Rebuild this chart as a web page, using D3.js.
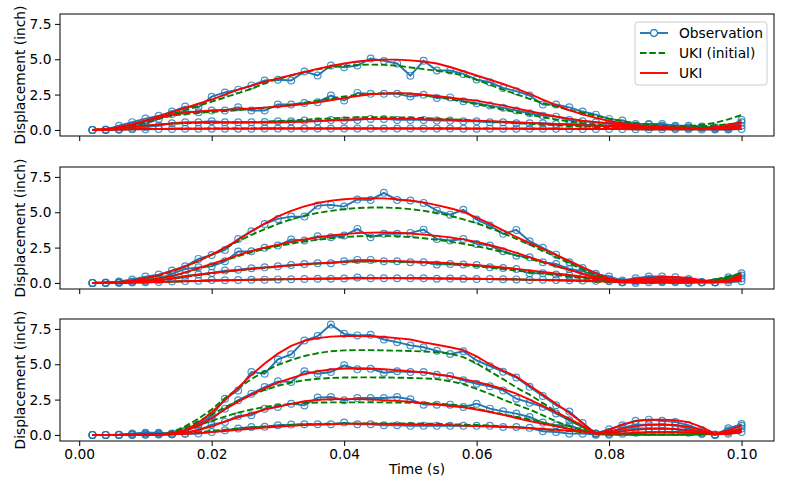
<!DOCTYPE html>
<html lang="en">
<head>
<meta charset="utf-8">
<title>UKI: displacement vs time</title>
<script src="https://cdn.jsdelivr.net/npm/d3@7"></script>
<style>
	body { margin: 0; background: #fff; }
	text { font-family: "DejaVu Sans", sans-serif; }
</style>
</head>
<body>
<script>
var time = [0.002, 0.004, 0.006, 0.008, 0.010, 0.012, 0.014, 0.016, 0.018, 0.020,
			0.022, 0.024, 0.026, 0.028, 0.030, 0.032, 0.034, 0.036, 0.038, 0.040,
			0.042, 0.044, 0.046, 0.048, 0.050, 0.052, 0.054, 0.056, 0.058, 0.060,
			0.062, 0.064, 0.066, 0.068, 0.070, 0.072, 0.074, 0.076, 0.078, 0.080,
			0.082, 0.084, 0.086, 0.088, 0.090, 0.092, 0.094, 0.096, 0.098, 0.100];

// ---- panel 1 ----
var obs1a = [0, 0.02, 0.3, 0.55, 0.8, 1.0, 1.3, 1.65, 1.6, 2.35, 2.65, 2.85, 3.15, 3.5, 3.55, 3.5, 4.13, 3.85, 4.56, 4.43, 4.55, 5.05, 4.88, 4.7, 3.84, 4.89, 4.2, 4.2, 3.96, 3.56, 3.37, 2.97, 2.74, 2.43, 1.8, 1.8, 1.6, 1.3, 1.08, 0.78, 0.66, 0.42, 0.42, 0.42, 0.3, 0.3, 0.24, 0.19, 0.19, 0.71];
var obs1b = [0, 0.01, 0.07, 0.3, 0.42, 0.78, 1.13, 1.3, 1.25, 1.37, 1.37, 1.6, 1.37, 1.37, 1.8, 1.8, 1.9, 1.96, 2.43, 2.08, 2.62, 2.55, 2.55, 2.55, 2.36, 2.48, 2.26, 2.3, 2.03, 1.89, 1.72, 1.56, 1.37, 1.18, 1.01, 0.94, 0.71, 0.61, 0.54, 0.47, 0.47, 0.3, 0.38, 0.3, 0.24, 0.19, 0.19, 0.14, 0.14, 0.54];
var obs1c = [0, 0.01, 0.05, 0.1, 0.2, 0.3, 0.47, 0.54, 0.54, 0.61, 0.54, 0.54, 0.54, 0.56, 0.61, 0.61, 0.66, 0.61, 0.71, 0.66, 0.71, 0.78, 0.78, 0.71, 0.71, 0.71, 0.66, 0.66, 0.61, 0.61, 0.54, 0.54, 0.47, 0.47, 0.47, 0.42, 0.42, 0.38, 0.3, 0.3, 0.3, 0.3, 0.19, 0.19, 0.14, 0.14, 0.14, 0.07, 0.07, 0.3];
var obs1d = [0, 0, 0.02, 0.04, 0.05, 0.06, 0.07, 0.08, 0.08, 0.09, 0.09, 0.09, 0.09, 0.1, 0.1, 0.1, 0.1, 0.1, 0.1, 0.1, 0.1, 0.1, 0.1, 0.1, 0.1, 0.1, 0.1, 0.1, 0.09, 0.09, 0.09, 0.09, 0.09, 0.08, 0.08, 0.08, 0.07, 0.07, 0.07, 0.06, 0.06, 0.05, 0.05, 0.05, 0.04, 0.04, 0.03, 0.03, 0.03, 0.07];
var ini1a = [0, 0.05, 0.15, 0.3, 0.52, 0.8, 1.1, 1.4, 1.7, 2.0, 2.3, 2.6, 2.9, 3.3, 3.6, 3.85, 4.08, 4.28, 4.43, 4.53, 4.6, 4.62, 4.6, 4.55, 4.42, 4.3, 4.18, 4.05, 3.85, 3.55, 3.2, 2.85, 2.52, 2.2, 1.9, 1.65, 1.4, 1.2, 1.0, 0.8, 0.62, 0.48, 0.37, 0.3, 0.27, 0.28, 0.35, 0.5, 0.75, 1.05];
var ini1b = [0, 0.04, 0.15, 0.35, 0.58, 0.8, 1.0, 1.12, 1.2, 1.27, 1.33, 1.4, 1.47, 1.55, 1.65, 1.78, 1.92, 2.07, 2.22, 2.36, 2.48, 2.56, 2.6, 2.6, 2.55, 2.45, 2.32, 2.17, 2.0, 1.82, 1.63, 1.44, 1.25, 1.07, 0.9, 0.74, 0.6, 0.48, 0.38, 0.3, 0.24, 0.2, 0.18, 0.17, 0.18, 0.2, 0.25, 0.32, 0.4, 0.5];
var ini1c = [0, 0.03, 0.1, 0.2, 0.3, 0.38, 0.44, 0.48, 0.5, 0.51, 0.52, 0.53, 0.55, 0.58, 0.62, 0.67, 0.72, 0.77, 0.82, 0.86, 0.89, 0.9, 0.9, 0.89, 0.87, 0.84, 0.8, 0.76, 0.71, 0.66, 0.6, 0.55, 0.49, 0.43, 0.38, 0.33, 0.28, 0.24, 0.2, 0.17, 0.14, 0.12, 0.11, 0.1, 0.1, 0.11, 0.13, 0.16, 0.2, 0.25];
var ini1d = [0, 0.01, 0.03, 0.05, 0.06, 0.07, 0.08, 0.09, 0.09, 0.1, 0.1, 0.1, 0.1, 0.1, 0.11, 0.11, 0.11, 0.11, 0.11, 0.11, 0.11, 0.11, 0.11, 0.11, 0.11, 0.11, 0.1, 0.1, 0.1, 0.1, 0.1, 0.09, 0.09, 0.09, 0.08, 0.08, 0.08, 0.07, 0.07, 0.06, 0.06, 0.05, 0.05, 0.05, 0.05, 0.05, 0.05, 0.06, 0.08, 0.1];
var uki1a = [0, 0.05, 0.2, 0.4, 0.65, 0.95, 1.25, 1.55, 1.85, 2.15, 2.5, 2.85, 3.12, 3.4, 3.65, 3.88, 4.1, 4.32, 4.52, 4.7, 4.84, 4.93, 4.97, 4.97, 4.92, 4.84, 4.7, 4.45, 4.15, 3.85, 3.55, 3.25, 2.92, 2.55, 2.15, 1.75, 1.4, 1.1, 0.85, 0.63, 0.47, 0.35, 0.25, 0.18, 0.13, 0.12, 0.13, 0.2, 0.35, 0.55];
var uki1b = [0, 0.05, 0.2, 0.4, 0.65, 0.85, 1.05, 1.22, 1.3, 1.37, 1.42, 1.47, 1.52, 1.58, 1.65, 1.73, 1.83, 1.95, 2.1, 2.25, 2.4, 2.52, 2.58, 2.6, 2.58, 2.5, 2.4, 2.28, 2.17, 2.07, 1.9, 1.72, 1.52, 1.32, 1.13, 0.95, 0.8, 0.66, 0.55, 0.45, 0.37, 0.3, 0.25, 0.2, 0.17, 0.15, 0.14, 0.15, 0.2, 0.35];
var uki1c = [0, 0.05, 0.12, 0.2, 0.3, 0.38, 0.45, 0.5, 0.52, 0.53, 0.53, 0.52, 0.52, 0.52, 0.53, 0.55, 0.58, 0.62, 0.67, 0.72, 0.76, 0.78, 0.79, 0.79, 0.78, 0.76, 0.74, 0.72, 0.69, 0.66, 0.62, 0.58, 0.54, 0.5, 0.45, 0.41, 0.37, 0.33, 0.29, 0.25, 0.22, 0.19, 0.16, 0.14, 0.12, 0.11, 0.1, 0.11, 0.14, 0.22];
var uki1d = [0, 0.01, 0.03, 0.05, 0.06, 0.07, 0.08, 0.08, 0.09, 0.09, 0.09, 0.09, 0.09, 0.1, 0.1, 0.1, 0.1, 0.1, 0.1, 0.1, 0.1, 0.1, 0.1, 0.1, 0.1, 0.1, 0.1, 0.1, 0.09, 0.09, 0.09, 0.09, 0.09, 0.08, 0.08, 0.08, 0.07, 0.07, 0.07, 0.06, 0.06, 0.05, 0.05, 0.05, 0.04, 0.04, 0.04, 0.04, 0.05, 0.08];

// ---- panel 2 ----
var obs2a = [0, 0.02, 0.1, 0.24, 0.45, 0.59, 0.87, 1.18, 1.7, 1.98, 2.33, 3.11, 3.66, 4.17, 4.53, 4.69, 4.69, 5.47, 5.52, 5.4, 5.9, 5.87, 6.37, 5.87, 5.83, 5.66, 5.12, 4.83, 5.17, 4.48, 4.06, 3.47, 3.75, 2.95, 2.48, 2.0, 1.46, 1.06, 0.64, 0.45, 0.17, 0.33, 0.45, 0.45, 0.4, 0.28, 0.05, 0.05, 0.4, 0.68];
var obs2b = [0, 0.01, 0.03, 0.1, 0.2, 0.3, 0.64, 0.99, 1.1, 1.18, 1.53, 2.22, 2.24, 2.48, 2.64, 3.07, 3.0, 3.3, 3.23, 3.35, 3.82, 3.23, 3.47, 3.47, 3.54, 3.77, 3.11, 3.0, 3.11, 2.76, 2.64, 2.24, 1.93, 1.82, 1.46, 1.34, 0.99, 0.83, 0.52, 0.28, 0.05, 0.17, 0.28, 0.28, 0.21, 0.17, 0.05, 0.05, 0.28, 0.52];
var obs2c = [0, 0.01, 0.03, 0.06, 0.12, 0.2, 0.33, 0.5, 0.6, 0.71, 0.87, 0.94, 1.04, 1.1, 1.18, 1.27, 1.34, 1.39, 1.39, 1.53, 1.63, 1.63, 1.53, 1.53, 1.46, 1.46, 1.3, 1.34, 1.3, 1.27, 1.1, 1.06, 0.99, 0.68, 0.68, 0.59, 0.52, 0.4, 0.28, 0.17, 0.05, 0.1, 0.17, 0.12, 0.12, 0.05, 0.05, 0.05, 0.17, 0.33];
var obs2d = [0, 0, 0.01, 0.03, 0.05, 0.07, 0.1, 0.13, 0.15, 0.21, 0.19, 0.21, 0.22, 0.23, 0.25, 0.26, 0.28, 0.29, 0.3, 0.31, 0.38, 0.33, 0.33, 0.33, 0.33, 0.33, 0.3, 0.31, 0.3, 0.28, 0.27, 0.26, 0.25, 0.21, 0.23, 0.2, 0.19, 0.17, 0.15, 0.12, 0.05, 0, 0.05, 0.05, 0.05, 0, 0.05, 0.05, 0.05, 0.12];
var ini2a = [0, 0.02, 0.07, 0.15, 0.3, 0.5, 0.8, 1.15, 1.55, 2.0, 2.45, 2.95, 3.4, 3.8, 4.17, 4.5, 4.75, 4.95, 5.1, 5.22, 5.3, 5.33, 5.33, 5.3, 5.22, 5.1, 4.95, 4.75, 4.5, 4.22, 3.9, 3.52, 3.12, 2.7, 2.27, 1.83, 1.38, 0.95, 0.55, 0.25, 0.1, 0.05, 0.03, 0.03, 0.03, 0.05, 0.1, 0.25, 0.45, 0.7];
var ini2b = [0, 0.02, 0.05, 0.1, 0.18, 0.3, 0.48, 0.72, 1.0, 1.3, 1.6, 1.9, 2.17, 2.4, 2.6, 2.78, 2.93, 3.06, 3.16, 3.24, 3.3, 3.33, 3.33, 3.3, 3.25, 3.16, 3.05, 2.92, 2.77, 2.6, 2.4, 2.18, 1.95, 1.7, 1.45, 1.18, 0.92, 0.66, 0.42, 0.22, 0.1, 0.05, 0.03, 0.03, 0.03, 0.05, 0.1, 0.22, 0.4, 0.62];
var ini2c = [0, 0.01, 0.03, 0.06, 0.1, 0.17, 0.29, 0.43, 0.56, 0.68, 0.79, 0.89, 0.98, 1.07, 1.15, 1.23, 1.3, 1.37, 1.43, 1.47, 1.5, 1.52, 1.52, 1.5, 1.47, 1.43, 1.38, 1.32, 1.25, 1.17, 1.08, 0.98, 0.88, 0.77, 0.66, 0.55, 0.44, 0.33, 0.23, 0.14, 0.08, 0.04, 0.03, 0.03, 0.03, 0.04, 0.08, 0.16, 0.28, 0.45];
var ini2d = [0, 0, 0.01, 0.03, 0.05, 0.07, 0.09, 0.12, 0.14, 0.16, 0.18, 0.2, 0.22, 0.24, 0.26, 0.27, 0.29, 0.3, 0.31, 0.32, 0.33, 0.34, 0.34, 0.34, 0.34, 0.33, 0.32, 0.31, 0.3, 0.29, 0.27, 0.26, 0.24, 0.22, 0.2, 0.18, 0.15, 0.12, 0.1, 0.07, 0.05, 0.03, 0.02, 0.02, 0.02, 0.03, 0.05, 0.1, 0.18, 0.3];
var uki2a = [0, 0.02, 0.07, 0.15, 0.35, 0.55, 0.85, 1.15, 1.55, 2.0, 2.5, 3.05, 3.65, 4.2, 4.7, 5.1, 5.42, 5.65, 5.82, 5.92, 5.98, 6.0, 5.98, 5.92, 5.82, 5.7, 5.5, 5.28, 5.03, 4.62, 4.2, 3.72, 3.25, 2.82, 2.4, 1.98, 1.56, 1.12, 0.7, 0.3, 0.18, 0.28, 0.36, 0.42, 0.42, 0.35, 0.2, 0.08, 0.2, 0.6];
var uki2b = [0, 0.02, 0.05, 0.1, 0.18, 0.3, 0.48, 0.75, 1.05, 1.35, 1.65, 1.97, 2.27, 2.5, 2.7, 2.9, 3.08, 3.22, 3.35, 3.45, 3.52, 3.56, 3.57, 3.55, 3.5, 3.42, 3.33, 3.22, 3.08, 2.9, 2.68, 2.42, 2.12, 1.82, 1.5, 1.2, 0.92, 0.65, 0.4, 0.2, 0.12, 0.18, 0.24, 0.27, 0.27, 0.22, 0.14, 0.07, 0.18, 0.45];
var uki2c = [0, 0.01, 0.03, 0.06, 0.1, 0.17, 0.3, 0.45, 0.58, 0.7, 0.8, 0.9, 0.99, 1.08, 1.16, 1.24, 1.31, 1.38, 1.44, 1.49, 1.53, 1.55, 1.55, 1.54, 1.52, 1.48, 1.44, 1.39, 1.33, 1.26, 1.18, 1.09, 0.99, 0.89, 0.78, 0.67, 0.56, 0.44, 0.33, 0.22, 0.12, 0.1, 0.12, 0.14, 0.14, 0.12, 0.09, 0.06, 0.14, 0.32];
var uki2d = [0, 0, 0.01, 0.03, 0.05, 0.07, 0.09, 0.12, 0.14, 0.16, 0.18, 0.2, 0.22, 0.24, 0.25, 0.27, 0.28, 0.3, 0.31, 0.32, 0.33, 0.33, 0.34, 0.34, 0.33, 0.33, 0.32, 0.31, 0.3, 0.29, 0.28, 0.26, 0.25, 0.23, 0.21, 0.19, 0.17, 0.15, 0.12, 0.09, 0.06, 0.04, 0.04, 0.05, 0.05, 0.05, 0.04, 0.04, 0.08, 0.18];

// ---- panel 3 ----
var obs3a = [0, 0, 0.02, 0.1, 0.15, 0.15, 0.1, 0.3, 0.75, 1.35, 2.56, 3.15, 4.45, 4.33, 5.34, 5.7, 6.68, 6.99, 7.81, 7.15, 7.04, 7.08, 6.75, 6.56, 6.33, 6.2, 5.95, 5.72, 5.92, 5.27, 4.86, 4.47, 4.06, 3.4, 2.76, 2.1, 1.65, 0.84, 0.1, 0.4, 0.68, 1.0, 1.08, 1.0, 0.92, 0.68, 0.35, 0.02, 0.47, 0.77];
var obs3b = [0, 0, 0.01, 0.05, 0.1, 0.1, 0.05, 0.26, 0.68, 1.15, 1.86, 2.45, 2.92, 3.39, 3.79, 3.75, 4.5, 4.33, 4.45, 4.92, 4.64, 4.68, 4.4, 4.5, 4.45, 4.45, 4.26, 4.16, 3.86, 3.62, 3.44, 3.15, 2.56, 2.28, 1.98, 1.51, 1.04, 0.56, 0.09, 0.2, 0.5, 0.73, 0.73, 0.73, 0.68, 0.45, 0.21, 0.02, 0.33, 0.64];
var obs3c = [0, 0, 0, 0.02, 0.03, 0.05, 0.05, 0.1, 0.33, 0.73, 0.92, 1.34, 1.39, 1.86, 1.98, 2.21, 2.09, 2.64, 2.68, 2.45, 2.61, 2.61, 2.61, 2.68, 2.52, 2.14, 2.14, 2.14, 1.98, 2.21, 1.86, 1.67, 1.51, 1.27, 0.87, 0.68, 0.68, 0.33, 0.09, 0.09, 0.33, 0.45, 0.45, 0.45, 0.4, 0.26, 0.09, 0.02, 0.21, 0.45];
var obs3d = [0, 0, 0, 0, 0.02, 0.03, 0.05, 0.08, 0.1, 0.21, 0.33, 0.45, 0.56, 0.58, 0.68, 0.73, 0.75, 0.75, 0.75, 0.87, 0.75, 0.75, 0.68, 0.68, 0.64, 0.64, 0.64, 0.64, 0.64, 0.64, 0.64, 0.56, 0.56, 0.5, 0.26, 0.21, 0.09, 0.09, 0.02, 0.02, 0.09, 0.16, 0.21, 0.21, 0.21, 0.16, 0.09, 0.02, 0.09, 0.21];
var ini3a = [0, 0, 0, 0.01, 0.02, 0.05, 0.2, 0.6, 1.15, 1.8, 2.6, 3.3, 3.95, 4.5, 4.95, 5.3, 5.58, 5.78, 5.92, 5.98, 6.0, 6.0, 5.98, 5.96, 5.94, 5.9, 5.85, 5.75, 5.5, 5.05, 4.5, 3.95, 3.35, 2.85, 2.25, 1.65, 1.05, 0.55, 0.2, 0.05, 0.02, 0.02, 0.02, 0.02, 0.02, 0.03, 0.05, 0.1, 0.2, 0.35];
var ini3b = [0, 0, 0, 0.01, 0.02, 0.04, 0.15, 0.5, 0.95, 1.45, 1.95, 2.42, 2.83, 3.18, 3.47, 3.7, 3.87, 3.97, 4.03, 4.06, 4.07, 4.07, 4.06, 4.05, 4.03, 4.0, 3.95, 3.8, 3.6, 3.25, 2.9, 2.5, 2.15, 1.8, 1.38, 0.96, 0.6, 0.35, 0.12, 0.03, 0.02, 0.02, 0.02, 0.02, 0.02, 0.03, 0.05, 0.1, 0.18, 0.3];
var ini3c = [0, 0, 0, 0.01, 0.02, 0.03, 0.1, 0.35, 0.68, 1.0, 1.3, 1.58, 1.8, 1.98, 2.1, 2.2, 2.26, 2.29, 2.3, 2.3, 2.3, 2.3, 2.3, 2.29, 2.28, 2.26, 2.22, 2.15, 2.05, 1.85, 1.65, 1.45, 1.28, 1.1, 0.88, 0.66, 0.45, 0.25, 0.1, 0.03, 0.02, 0.02, 0.02, 0.02, 0.02, 0.03, 0.04, 0.08, 0.14, 0.24];
var ini3d = [0, 0, 0, 0, 0.01, 0.02, 0.05, 0.12, 0.2, 0.28, 0.37, 0.45, 0.53, 0.6, 0.66, 0.71, 0.75, 0.78, 0.8, 0.81, 0.82, 0.82, 0.82, 0.82, 0.81, 0.8, 0.78, 0.76, 0.73, 0.7, 0.66, 0.61, 0.55, 0.48, 0.41, 0.34, 0.27, 0.2, 0.13, 0.07, 0.04, 0.03, 0.03, 0.03, 0.03, 0.03, 0.04, 0.06, 0.1, 0.16];
var uki3a = [0, 0, 0.01, 0.02, 0.03, 0.05, 0.1, 0.35, 0.85, 1.6, 2.45, 3.35, 4.25, 5.05, 5.75, 6.3, 6.65, 6.85, 6.95, 7.0, 7.0, 6.98, 6.93, 6.85, 6.75, 6.55, 6.38, 6.2, 6.0, 5.55, 5.0, 4.55, 4.12, 3.5, 2.85, 2.2, 1.55, 0.85, 0.08, 0.35, 0.75, 0.98, 1.07, 1.08, 1.05, 0.9, 0.55, 0.1, 0.3, 0.67];
var uki3b = [0, 0, 0, 0.02, 0.03, 0.05, 0.1, 0.3, 0.62, 1.2, 1.8, 2.35, 2.85, 3.3, 3.7, 4.02, 4.3, 4.5, 4.63, 4.7, 4.72, 4.7, 4.65, 4.58, 4.5, 4.42, 4.3, 4.15, 3.95, 3.75, 3.52, 3.25, 2.92, 2.5, 2.05, 1.6, 1.15, 0.65, 0.08, 0.22, 0.45, 0.62, 0.72, 0.74, 0.7, 0.57, 0.33, 0.06, 0.18, 0.45];
var uki3c = [0, 0, 0, 0.01, 0.02, 0.03, 0.05, 0.15, 0.35, 0.6, 0.95, 1.25, 1.52, 1.8, 2.0, 2.2, 2.38, 2.48, 2.52, 2.53, 2.53, 2.5, 2.46, 2.41, 2.35, 2.25, 2.15, 2.05, 1.95, 1.8, 1.62, 1.42, 1.2, 0.98, 0.78, 0.6, 0.42, 0.25, 0.08, 0.12, 0.25, 0.36, 0.43, 0.45, 0.42, 0.34, 0.2, 0.05, 0.1, 0.3];
var uki3d = [0, 0, 0, 0, 0.01, 0.02, 0.04, 0.08, 0.13, 0.2, 0.28, 0.36, 0.44, 0.52, 0.58, 0.64, 0.69, 0.73, 0.76, 0.78, 0.79, 0.79, 0.78, 0.77, 0.75, 0.73, 0.71, 0.69, 0.66, 0.63, 0.6, 0.56, 0.52, 0.47, 0.42, 0.36, 0.3, 0.23, 0.16, 0.1, 0.1, 0.14, 0.18, 0.2, 0.2, 0.18, 0.14, 0.06, 0.08, 0.18];

var xTicks = [0, 0.02, 0.04, 0.06, 0.08, 0.10];
var yTicks = [0, 2.5, 5.0, 7.5];
var legendLabels = ["Observation", "UKI (initial)", "UKI"];

var panels = [
	{ obs: [obs1a, obs1b, obs1c, obs1d], ini: [ini1a, ini1b, ini1c, ini1d], uki: [uki1a, uki1b, uki1c, uki1d] },
	{ obs: [obs2a, obs2b, obs2c, obs2d], ini: [ini2a, ini2b, ini2c, ini2d], uki: [uki2a, uki2b, uki2c, uki2d] },
	{ obs: [obs3a, obs3b, obs3c, obs3d], ini: [ini3a, ini3b, ini3c, ini3d], uki: [uki3a, uki3b, uki3c, uki3d] }
];

var w = 789;
var h = 492;
var left = 60, right = 774;
var panelTop = [14, 167, 319];
var panelH = 122;
var fontSize = "13.8px";
var blue = "#1f77b4", green = "#008000", red = "#ff0000";
var lw = 1.9;

var xScale = d3.scaleLinear()
				.domain([-0.0029, 0.1049])
				.range([left, right]);

var svg = d3.select("body")
			.append("svg")
			.attr("width", w)
			.attr("height", h);

panels.forEach(function(p, k) {
	var top = panelTop[k];
	var yScale = d3.scaleLinear()
					.domain([-0.43, 8.2])
					.range([top + panelH, top]);
	var line = d3.line()
					.x(function(d, i) { return xScale(time[i]); })
					.y(function(d) { return yScale(d); });
	var g = svg.append("g");

	//observations: line + open circles
	p.obs.forEach(function(s) {
		g.append("path")
			.attr("d", line(s))
			.attr("fill", "none")
			.attr("stroke", blue)
			.attr("stroke-width", lw);
		g.selectAll(null)
			.data(s)
			.enter()
			.append("circle")
			.attr("cx", function(d, i) { return xScale(time[i]); })
			.attr("cy", function(d) { return yScale(d); })
			.attr("r", 3.4)
			.attr("fill", "none")
			.attr("stroke", blue)
			.attr("stroke-opacity", 0.8)
			.attr("stroke-width", 1.2);
	});
	//initial UKI (dashed green)
	p.ini.forEach(function(s) {
		g.append("path")
			.attr("d", line(s))
			.attr("fill", "none")
			.attr("stroke", green)
			.attr("stroke-width", lw)
			.attr("stroke-dasharray", "6.5,2.8");
	});
	//final UKI (red)
	p.uki.forEach(function(s) {
		g.append("path")
			.attr("d", line(s))
			.attr("fill", "none")
			.attr("stroke", red)
			.attr("stroke-width", lw);
	});

	//axes
	var yAxis = d3.axisLeft(yScale)
					.tickValues(yTicks)
					.tickFormat(d3.format(".1f"))
					.tickSize(5)
					.tickPadding(3.5);
	var ya = g.append("g")
				.attr("transform", "translate(" + left + ",0)")
				.call(yAxis);
	var xAxis = d3.axisBottom(xScale)
					.tickValues(xTicks)
					.tickFormat(k == 2 ? d3.format(".2f") : function() { return ""; })
					.tickSize(5)
					.tickPadding(3.5);
	var xa = g.append("g")
				.attr("transform", "translate(0," + (top + panelH) + ")")
				.call(xAxis);
	[ya, xa].forEach(function(a) {
		a.select(".domain").remove();
		a.attr("font-size", fontSize)
			.attr("font-family", "'DejaVu Sans', sans-serif");
		a.selectAll("line").attr("stroke", "#000").attr("stroke-width", 1);
		a.selectAll("text").attr("fill", "#000");
	});

	//frame
	g.append("rect")
		.attr("x", left)
		.attr("y", top)
		.attr("width", right - left)
		.attr("height", panelH)
		.attr("fill", "none")
		.attr("stroke", "#000")
		.attr("stroke-width", 1);

	//y label
	g.append("text")
		.attr("transform", "translate(20," + (top + panelH / 2) + ") rotate(-90)")
		.attr("text-anchor", "middle")
		.attr("dy", "0.35em")
		.attr("font-size", fontSize)
		.text("Displacement (inch)");
});

//x label
svg.append("text")
	.attr("x", (left + right) / 2)
	.attr("y", 469)
	.attr("dy", "0.35em")
	.attr("text-anchor", "middle")
	.attr("font-size", fontSize)
	.text("Time (s)");

//legend
var lg = svg.append("g");
lg.append("rect")
	.attr("x", 635)
	.attr("y", 22)
	.attr("width", 132)
	.attr("height", 63)
	.attr("rx", 3)
	.attr("fill", "#fff")
	.attr("fill-opacity", 0.8)
	.attr("stroke", "#ccc");
var legendStyles = [
	{ color: blue, dash: null, marker: true },
	{ color: green, dash: "6.5,2.8", marker: false },
	{ color: red, dash: null, marker: false }
];
legendLabels.forEach(function(label, i) {
	var y = 33 + i * 20;
	var st = legendStyles[i];
	lg.append("line")
		.attr("x1", 640)
		.attr("x2", 668)
		.attr("y1", y)
		.attr("y2", y)
		.attr("stroke", st.color)
		.attr("stroke-width", lw)
		.attr("stroke-dasharray", st.dash);
	if (st.marker) {
		lg.append("circle")
			.attr("cx", 654)
			.attr("cy", y)
			.attr("r", 3.4)
			.attr("fill", "#fff")
			.attr("stroke", st.color)
			.attr("stroke-width", 1.2);
	}
	lg.append("text")
		.attr("x", 679)
		.attr("y", y)
		.attr("dy", "0.35em")
		.attr("font-size", fontSize)
		.text(label);
});
</script>
</body>
</html>
